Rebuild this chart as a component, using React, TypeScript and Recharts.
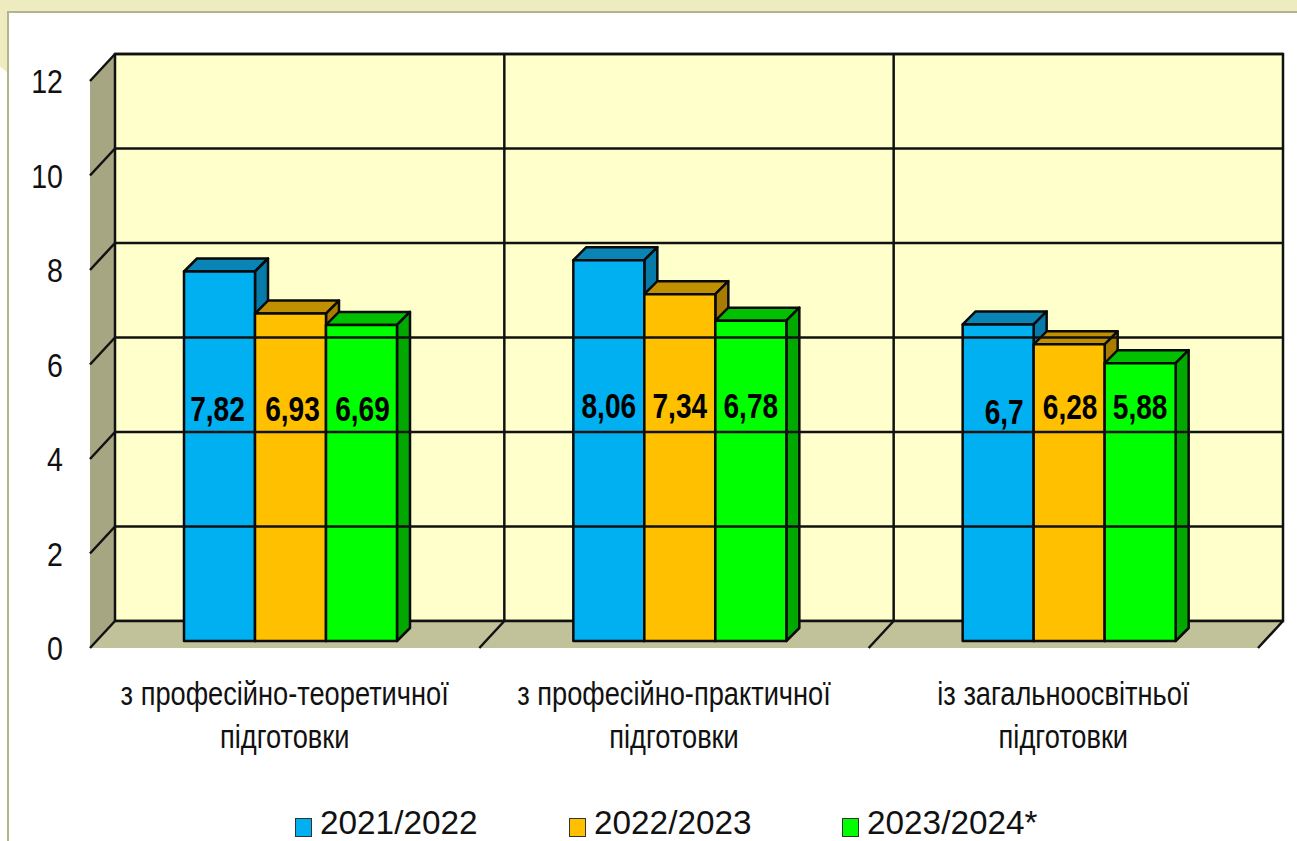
import { Bar, BarChart, LabelList, Legend, ReferenceArea, ReferenceLine, XAxis, YAxis } from "recharts";

const categories = [
  ["з професійно-теоретичної", "підготовки"],
  ["з професійно-практичної", "підготовки"],
  ["із загальноосвітньої", "підготовки"],
];
const seriesNames = ["2021/2022", "2022/2023", "2023/2024*"];
const values2122 = [7.82, 8.06, 6.7];
const values2223 = [6.93, 7.34, 6.28];
const values2324 = [6.69, 6.78, 5.88];
const yTicks = [0, 2, 4, 6, 8, 10, 12];

const data = categories.map((c, i) => ({
  name: c.join(" "),
  a: values2122[i],
  b: values2223[i],
  c: values2324[i],
}));

const FRONT = ["#00b0f0", "#ffc000", "#00ff00"];
const TOP = ["#0a84b4", "#c09000", "#00c000"];
const SIDE = ["#067aa8", "#a87c00", "#00a800"];

// 3d offsets relative to the plane the bars stand on
const BACK_DX = 19;
const BACK_DY = -20;
const FLOOR_DX = -6;
const FLOOR_DY = 7;
const BAR_DEPTH = 13;
const LINE = "#111";
const LINE_W = 2.5;

// hand-placed labels in the original
const labelNudge = [
  [[-2, 1], [2, 1], [1, 1]],
  [[0, -2], [0, -2], [0, -2]],
  [[6, 4], [1, -1], [0, -1]],
];

const FONT = "'Liberation Sans', Arial, sans-serif";

function Walls(props: any) {
  const { x, y, width, height } = props;
  const r = x + width;
  const b = y + height;
  const bx = x + BACK_DX;
  const fx = x + FLOOR_DX;
  const by = y + BACK_DY;
  const bb = b + BACK_DY;
  const fb = b + FLOOR_DY;
  const fy = y + FLOOR_DY;
  const step = width / categories.length;
  return (
    <g>
      <polygon points={`${fx},${fy} ${bx},${by} ${bx},${bb} ${fx},${fb}`} fill="#a6a682" />
      <rect x={bx} y={by} width={width} height={height} fill="#ffffcc" stroke={LINE} strokeWidth={LINE_W} />
      <polygon points={`${fx},${fb} ${bx},${bb} ${r + BACK_DX},${bb} ${r + FLOOR_DX},${fb}`} fill="#c2c29a" />
      {categories.map((_, i) => (
        <g key={i}>
          {i > 0 && <line x1={bx + step * i} x2={bx + step * i} y1={by} y2={bb} stroke={LINE} strokeWidth={LINE_W} />}
          <line x1={fx + step * i} y1={fb} x2={bx + step * i} y2={bb} stroke={LINE} strokeWidth={LINE_W} />
        </g>
      ))}
      <line x1={r + FLOOR_DX} y1={fb} x2={r + BACK_DX} y2={bb} stroke={LINE} strokeWidth={LINE_W} />
      <line x1={bx} x2={r + BACK_DX} y1={bb} y2={bb} stroke={LINE} strokeWidth={LINE_W} />
    </g>
  );
}

function GridLine(props: any) {
  const { x1, y1, x2 } = props;
  return (
    <g>
      <line x1={x1 + BACK_DX} x2={x2 + BACK_DX} y1={y1 + BACK_DY} y2={y1 + BACK_DY} stroke={LINE} strokeWidth={LINE_W} />
      <line x1={x1 + FLOOR_DX} x2={x1 + BACK_DX} y1={y1 + FLOOR_DY} y2={y1 + BACK_DY} stroke={LINE} strokeWidth={LINE_W} />
    </g>
  );
}

function Box3d(props: any) {
  const { x, y, width, height, colorIndex } = props;
  const d = BAR_DEPTH;
  const r = x + width;
  const b = y + height;
  return (
    <g stroke="#0a0a0a" strokeWidth={2.5} strokeLinejoin="round">
      <polygon points={`${x},${y} ${x + d},${y - d} ${r + d},${y - d} ${r},${y}`} fill={TOP[colorIndex]} />
      <polygon points={`${r},${y} ${r + d},${y - d} ${r + d},${b - d} ${r},${b}`} fill={SIDE[colorIndex]} />
      <rect x={x} y={y} width={width} height={height} fill={FRONT[colorIndex]} />
    </g>
  );
}

function valueLabel(colorIndex: number) {
  return (props: any) => {
    const { x, y, width, height, value, index } = props;
    const [nx, ny] = labelNudge[index][colorIndex];
    const cx = x + width / 2 + nx;
    const cy = y + height - 234 + ny;
    return (
      <g transform={`translate(${cx},${cy}) scale(0.78,1)`}>
        <text textAnchor="middle" dy="0.36em" fontFamily={FONT} fontWeight="bold" fontSize={36} fill="#000">
          {String(value).replace(".", ",")}
        </text>
      </g>
    );
  };
}

function CategoryTick(props: any) {
  const { x, y, index } = props;
  const lines = categories[index];
  return (
    <g>
      {lines.map((t, i) => (
        <g key={i} transform={`translate(${x + FLOOR_DX},${y + 56 + i * 43}) scale(0.825,1)`}>
          <text textAnchor="middle" fontFamily={FONT} fontSize={33} fill="#111">
            {t}
          </text>
        </g>
      ))}
    </g>
  );
}

function ValueTick(props: any) {
  const { x, y, payload } = props;
  return (
    <g transform={`translate(${x - 25},${y + FLOOR_DY}) scale(0.84,1)`}>
      <text textAnchor="end" dy="0.36em" fontFamily={FONT} fontSize={34} fill="#111">
        {payload.value}
      </text>
    </g>
  );
}

function LegendRow(props: any) {
  return (
    <div style={{ display: "flex", fontFamily: FONT, fontSize: 33, lineHeight: "40px", color: "#111" }}>
      {props.payload.map((p: any) => (
        <div key={p.value} style={{ width: 273.5, display: "flex", alignItems: "center" }}>
          <span
            style={{
              width: 15,
              height: 17,
              background: p.color,
              border: "1.5px solid #333",
              marginRight: 8,
              marginTop: 8,
              display: "inline-block",
            }}
          />
          <span style={{ transform: "scaleX(1.01)", transformOrigin: "left", whiteSpace: "nowrap" }}>{p.value}</span>
        </div>
      ))}
    </div>
  );
}

export default function App() {
  return (
    <div style={{ position: "absolute", left: 0, top: 0, width: 1297, height: 841, overflow: "hidden", background: "#fff" }}>
      <div style={{ position: "absolute", left: 0, top: 0, width: 1297, height: 11, background: "#efebc0" }} />
      <div
        style={{
          position: "absolute",
          left: 0,
          top: 0,
          width: 8,
          height: 73,
          background: "#efebc0",
          clipPath: "polygon(0 0, 100% 0, 100% 100%, 0 91%)",
        }}
      />
      <div style={{ position: "absolute", left: 7, top: 11, width: 1290, height: 830, boxSizing: "border-box", borderTop: "2px solid #b3b38c", borderLeft: "2px solid #b3b38c" }} />
      <BarChart
        width={1297}
        height={841}
        data={data}
        barSize={71}
        barGap={0}
        margin={{ top: 74, right: 33, bottom: 60, left: 26 }}
        style={{ position: "absolute", left: 0, top: 0 }}
      >
        <XAxis dataKey="name" axisLine={false} tickLine={false} tick={<CategoryTick />} height={100} interval={0} />
        <YAxis width={70} domain={[0, 12]} ticks={yTicks} axisLine={false} tickLine={false} tick={<ValueTick />} />
        <ReferenceArea y1={0} y2={12} shape={<Walls />} ifOverflow="visible" />
        {yTicks.slice(1).map((t) => (
          <ReferenceLine key={t} y={t} shape={<GridLine />} ifOverflow="visible" />
        ))}
        <Legend
          content={<LegendRow />}
          verticalAlign="bottom"
          wrapperStyle={{ left: 295, bottom: -2, width: 900 }}
          height={0}
        />
        <Bar dataKey="a" name={seriesNames[0]} fill={FRONT[0]} isAnimationActive={false} shape={<Box3d colorIndex={0} />}>
          <LabelList content={valueLabel(0)} />
        </Bar>
        <Bar dataKey="b" name={seriesNames[1]} fill={FRONT[1]} isAnimationActive={false} shape={<Box3d colorIndex={1} />}>
          <LabelList content={valueLabel(1)} />
        </Bar>
        <Bar dataKey="c" name={seriesNames[2]} fill={FRONT[2]} isAnimationActive={false} shape={<Box3d colorIndex={2} />}>
          <LabelList content={valueLabel(2)} />
        </Bar>
      </BarChart>
    </div>
  );
}
